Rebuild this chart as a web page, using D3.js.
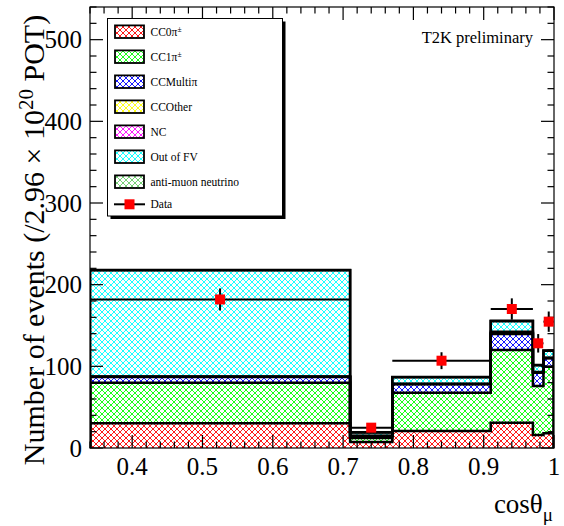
<!DOCTYPE html>
<html><head><meta charset="utf-8">
<script src="https://cdn.jsdelivr.net/npm/d3@7"></script>
<style>body{margin:0;background:#fff}svg{display:block}</style>
</head><body>
<script>
// ---- data ----
const binEdges = [0.34, 0.71, 0.77, 0.91, 0.97, 0.985, 1.0];
const seriesNames = ["CC0π±", "CC1π±", "CCMultiπ", "CCOther", "NC", "Out of FV", "anti-muon neutrino"];
const seriesColors = ["#ff0000", "#00ff00", "#0000ff", "#ffff00", "#ff00ff", "#00ffff", "#66cc66"];
const cc0pi   = [30.2, 7.3, 20.8, 31.0, 15.9, 18.0];
const cc1pi   = [49.8, 4.9, 46.9, 89.0, 60.0, 81.6];
const ccMulti = [6.8, 2.3, 10.3, 19.6, 16.3, 10.3];
const ccOther = [0.3, 0.2, 0.3, 1.0, 0.3, 0.3];
const ncVals  = [0.5, 0.3, 0.3, 1.8, 0.5, 0.3];
const oofv    = [130.0, 4.0, 8.0, 12.9, 8.3, 8.7];
const antiNumu= [0.5, 0.2, 0.3, 0.5, 0.3, 0.3];
const dataVals = [181.9, 24.9, 106.9, 170.2, 128.2, 154.7];
const xTicks = [0.4, 0.5, 0.6, 0.7, 0.8, 0.9, 1];
const yTicks = [0, 100, 200, 300, 400, 500];

const series = [cc0pi, cc1pi, ccMulti, ccOther, ncVals, oofv, antiNumu];

const FONT = "Liberation Serif";
const W = 564, H = 526;
const L = 90, R = 554, T = 7, B = 448;
const x = d3.scaleLinear().domain([0.34, 1.0]).range([L, R]);
const y = d3.scaleLinear().domain([0, 540]).range([B, T]);

const svg = d3.select("body").append("svg").attr("width", W).attr("height", H)
  .attr("font-family", FONT);
const defs = svg.append("defs");
const pw = 6;
seriesColors.forEach((c, i) => {
  const p = defs.append("pattern").attr("id", "hatch" + i).attr("patternUnits", "userSpaceOnUse")
    .attr("width", pw).attr("height", pw);
  p.append("rect").attr("width", pw).attr("height", pw).attr("fill", "#fff");
  p.append("path").attr("d", `M-1,-1L${pw+1},${pw+1}M${pw+1},-1L-1,${pw+1}`)
    .attr("stroke", c).attr("stroke-width", 0.9).attr("fill", "none");
});
defs.append("clipPath").attr("id", "clip").append("rect")
  .attr("x", L).attr("y", T).attr("width", R - L).attr("height", B - T);

const nb = binEdges.length - 1;
const cum = [];
series.forEach((s, i) => {
  cum.push(s.map((v, b) => v + (i > 0 ? cum[i - 1][b] : 0)));
});

const plot = svg.append("g").attr("clip-path", "url(#clip)");
series.forEach((s, i) => {
  for (let b = 0; b < nb; b++) {
    const lo = i > 0 ? cum[i - 1][b] : 0, hi = cum[i][b];
    plot.append("rect").attr("x", x(binEdges[b])).attr("width", x(binEdges[b + 1]) - x(binEdges[b]))
      .attr("y", y(hi)).attr("height", y(lo) - y(hi)).attr("fill", `url(#hatch${i})`);
  }
});
function stepPath(vals) {
  let d = `M${x(binEdges[0])},${y(0)}`;
  for (let b = 0; b < nb; b++) {
    d += `L${x(binEdges[b])},${y(vals[b])}L${x(binEdges[b + 1])},${y(vals[b])}`;
  }
  d += `L${x(binEdges[nb])},${y(0)}`;
  return d;
}
for (let i = series.length - 1; i >= 0; i--) {
  plot.append("path").attr("d", stepPath(cum[i])).attr("fill", "none")
    .attr("stroke", "#000").attr("stroke-width", 2.5);
}

const axes = svg.append("g").attr("stroke", "#000").attr("stroke-width", 1.2);
axes.append("rect").attr("x", L).attr("y", T).attr("width", R - L).attr("height", B - T).attr("fill", "none");
for (let k = 17; k <= 50; k++) {
  const v = k * 0.02;
  if (v < 0.34 - 1e-9 || v > 1.0 + 1e-9) continue;
  const major = Math.abs(v * 10 - Math.round(v * 10)) < 1e-6;
  const len = major ? 13 : 6.5;
  const px = x(v);
  axes.append("line").attr("x1", px).attr("x2", px).attr("y1", B).attr("y2", B - len);
  axes.append("line").attr("x1", px).attr("x2", px).attr("y1", T).attr("y2", T + len);
}
for (let v = 0; v <= 540; v += 20) {
  const major = v % 100 === 0;
  const len = major ? 13 : 6.5;
  const py = y(v);
  axes.append("line").attr("x1", L).attr("x2", L + len).attr("y1", py).attr("y2", py);
  axes.append("line").attr("x1", R).attr("x2", R - len).attr("y1", py).attr("y2", py);
}
svg.append("g").selectAll("text").data(xTicks).join("text")
  .attr("font-family", FONT)
  .attr("x", d => x(d)).attr("y", 474.5).attr("text-anchor", "middle")
  .attr("font-size", 25).text(d => d === 1 ? "1" : d3.format(".1f")(d));
svg.append("g").selectAll("text").data(yTicks).join("text")
  .attr("font-family", FONT)
  .attr("x", 82).attr("y", d => y(d) + 8.5).attr("text-anchor", "end")
  .attr("font-size", 25).text(d => d);

const xt = svg.append("text").attr("font-family", FONT).attr("x", 553).attr("y", 513).attr("text-anchor", "end").attr("font-size", 27);
xt.append("tspan").text("cosθ");
xt.append("tspan").attr("font-size", 19).attr("dy", 8).text("μ");

const yt = svg.append("text").attr("font-family", FONT).attr("transform", "translate(43.5,240) rotate(-90)")
  .attr("text-anchor", "middle").attr("font-size", 30);
yt.append("tspan").text("Number of events (/2.96 × 10");
yt.append("tspan").attr("font-size", 21).attr("dy", -11).text("20");
yt.append("tspan").attr("dy", 11).text(" POT)");

svg.append("text").attr("font-family", FONT).attr("x", 533).attr("y", 43).attr("text-anchor", "end").attr("font-size", 16.5)
  .text("T2K preliminary");

const dg = svg.append("g").attr("clip-path", "url(#clip)");
dataVals.forEach((v, b) => {
  const cx = x((binEdges[b] + binEdges[b + 1]) / 2);
  const e = Math.sqrt(v);
  dg.append("line").attr("x1", x(binEdges[b])).attr("x2", x(binEdges[b + 1])).attr("y1", y(v)).attr("y2", y(v))
    .attr("stroke", "#000").attr("stroke-width", 2);
  dg.append("line").attr("x1", cx).attr("x2", cx).attr("y1", y(v - e)).attr("y2", y(v + e))
    .attr("stroke", "#000").attr("stroke-width", 2);
  dg.append("rect").attr("x", cx - 5).attr("y", y(v) - 5).attr("width", 10).attr("height", 10).attr("fill", "#ff0000");
});

const lg = svg.append("g");
const lx0 = 107.5, ly0 = 18.5, lx1 = 282.5, ly1 = 216;
lg.append("rect").attr("x", lx0 + 3).attr("y", ly0 + 3).attr("width", lx1 - lx0).attr("height", ly1 - ly0).attr("fill", "#000");
lg.append("rect").attr("x", lx0).attr("y", ly0).attr("width", lx1 - lx0).attr("height", ly1 - ly0)
  .attr("fill", "#fff").attr("stroke", "#000").attr("stroke-width", 1);
const labels = seriesNames.concat(["Data"]);
labels.forEach((name, i) => {
  const cy = 31.7 + i * 25 - (i === 7 ? 2.4 : 0);
  if (i < 7) {
    lg.append("rect").attr("x", 115).attr("y", cy - 6.3).attr("width", 29).attr("height", 12.6)
      .attr("fill", `url(#hatch${i})`).attr("stroke", "#000").attr("stroke-width", 1.8);
  } else {
    lg.append("line").attr("x1", 114).attr("x2", 145).attr("y1", cy).attr("y2", cy).attr("stroke", "#000").attr("stroke-width", 2);
    lg.append("rect").attr("x", 124.5).attr("y", cy - 5).attr("width", 10).attr("height", 10).attr("fill", "#ff0000");
  }
  const t = lg.append("text").attr("font-family", FONT).attr("x", 150.5).attr("y", cy + 4).attr("font-size", 11.5);
  if (name.endsWith("±")) {
    t.append("tspan").text(name.slice(0, -1));
    t.append("tspan").attr("font-size", 7.5).attr("dy", -4).text("±");
  } else {
    t.text(name);
  }
});
</script>
</body></html>
